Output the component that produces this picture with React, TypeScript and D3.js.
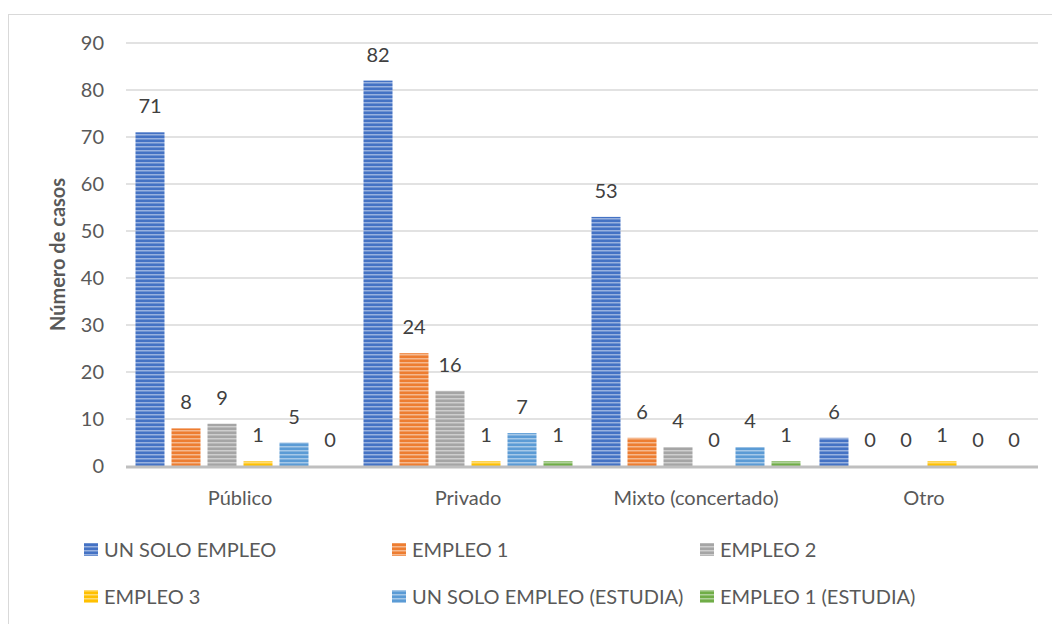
import React, { useEffect, useRef } from 'react';
import * as d3 from 'd3';

const categories = ['Público', 'Privado', 'Mixto (concertado)', 'Otro'];
const seriesNames = [
  'UN SOLO EMPLEO',
  'EMPLEO 1',
  'EMPLEO 2',
  'EMPLEO 3',
  'UN SOLO EMPLEO (ESTUDIA)',
  'EMPLEO 1 (ESTUDIA)',
];
const seriesColors = ['#4472C4', '#ED7D31', '#A5A5A5', '#FFC000', '#5B9BD5', '#70AD47'];
const unSoloEmpleo = [71, 82, 53, 6];
const empleo1 = [8, 24, 6, 0];
const empleo2 = [9, 16, 4, 0];
const empleo3 = [1, 1, 0, 1];
const unSoloEstudia = [5, 7, 4, 0];
const empleo1Estudia = [0, 1, 1, 0];
const yTicks = [0, 10, 20, 30, 40, 50, 60, 70, 80, 90];

const seriesValues = [unSoloEmpleo, empleo1, empleo2, empleo3, unSoloEstudia, empleo1Estudia];

const App: React.FC = () => {
  const svgRef = useRef<SVGSVGElement>(null);

  useEffect(() => {
    if (!svgRef.current) return;
    const root = d3.select(svgRef.current);
    root.selectAll('*').remove();

    const font = 'Lato, "Open Sans", sans-serif';
    const left = 126;
    const right = 1038;
    const top = 43;
    const bottom = 466;

    // stripe patterns
    const defs = root.append('defs');
    seriesColors.forEach((c, i) => {
      const p = defs.append('pattern')
        .attr('id', `stripe${i}`)
        .attr('patternUnits', 'userSpaceOnUse')
        .attr('width', 8)
        .attr('height', 4);
      p.append('rect').attr('width', 8).attr('height', 4).attr('fill', c);
      p.append('rect').attr('y', 2).attr('width', 8).attr('height', 1.5)
        .attr('fill', d3.interpolateRgb(c, '#ffffff')(0.45));
    });

    // chart frame
    root.append('rect')
      .attr('x', 8.5).attr('y', 14.5)
      .attr('width', 1060).attr('height', 640)
      .attr('fill', '#fff').attr('stroke', '#d9d9d9').attr('stroke-width', 1);

    const x0 = d3.scaleBand<string>().domain(categories).range([left, right]).paddingInner(0).paddingOuter(0);
    const y = d3.scaleLinear().domain([0, 90]).range([bottom, top]);

    // grid
    root.append('g').selectAll('line')
      .data(yTicks.filter(t => t > 0))
      .join('line')
      .attr('x1', left).attr('x2', right)
      .attr('y1', d => y(d)).attr('y2', d => y(d))
      .attr('stroke', '#d9d9d9').attr('stroke-width', 1.5);

    // y labels
    root.append('g').selectAll('text')
      .data(yTicks)
      .join('text')
      .attr('x', 104).attr('y', d => y(d))
      .attr('dy', '0.35em')
      .attr('text-anchor', 'end')
      .attr('font-family', font).attr('font-size', 20)
      .attr('fill', '#595959')
      .text(d => d);

    // y title
    root.append('text')
      .attr('transform', `translate(65,${(top + bottom) / 2}) rotate(-90)`)
      .attr('text-anchor', 'middle')
      .attr('font-family', font).attr('font-size', 20).attr('font-weight', 'bold')
      .attr('fill', '#595959')
      .text('Número de casos');

    // bars
    const step = 36;
    const barW = 29;
    const groupW = step * (seriesNames.length - 1) + barW;
    const x1 = d3.scaleBand<number>()
      .domain(d3.range(seriesNames.length))
      .range([-groupW / 2, -groupW / 2 + step * seriesNames.length]);

    const g = root.append('g');
    categories.forEach((cat, ci) => {
      const cx = (x0(cat) ?? 0) + x0.bandwidth() / 2;
      seriesValues.forEach((vals, si) => {
        const v = vals[ci];
        const bx = cx + (x1(si) ?? 0);
        if (v > 0) {
          g.append('rect')
            .attr('x', bx).attr('y', y(v))
            .attr('width', barW).attr('height', y(0) - y(v))
            .attr('fill', `url(#stripe${si})`);
        }
        g.append('text')
          .attr('x', bx + barW / 2).attr('y', y(v) - 19)
          .attr('text-anchor', 'middle')
          .attr('font-family', font).attr('font-size', 20)
          .attr('fill', '#404040')
          .text(v);
      });
    });

    // axis line
    root.append('line')
      .attr('x1', left).attr('x2', right)
      .attr('y1', bottom + 1).attr('y2', bottom + 1)
      .attr('stroke', '#bfbfbf').attr('stroke-width', 3);

    // category labels
    root.append('g').selectAll('text')
      .data(categories)
      .join('text')
      .attr('x', d => (x0(d) ?? 0) + x0.bandwidth() / 2)
      .attr('y', 505)
      .attr('text-anchor', 'middle')
      .attr('font-family', font).attr('font-size', 20)
      .attr('fill', '#595959')
      .text(d => d);

    // legend
    const legendX = [84, 392, 700];
    const legendY = [550, 597];
    seriesNames.forEach((name, i) => {
      const lx = legendX[i % 3];
      const ly = legendY[Math.floor(i / 3)];
      root.append('rect')
        .attr('x', lx).attr('y', ly - 7)
        .attr('width', 14).attr('height', 13)
        .attr('fill', `url(#stripe${i})`);
      root.append('text')
        .attr('x', lx + 20).attr('y', ly)
        .attr('dy', '0.35em')
        .attr('font-family', font).attr('font-size', 20)
        .attr('fill', '#595959')
        .text(name);
    });
  }, []);

  return (
    <div style={{ position: 'fixed', left: 0, top: 0, width: 1052, height: 624, overflow: 'hidden' }}>
      <svg ref={svgRef} width={1052} height={624} style={{ display: 'block' }} />
    </div>
  );
};

export default App;
